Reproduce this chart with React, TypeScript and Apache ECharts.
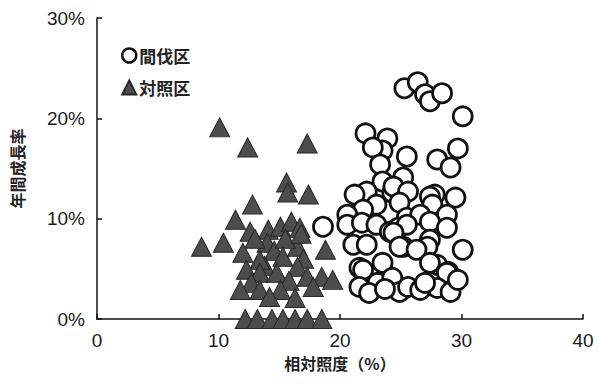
import React, { useEffect, useRef } from "react";
import * as echarts from "echarts";

// 相対照度 (%) と 年間成長率 (%) の組
const thinnedPlot: number[][] = [
  [25.3, 23.0], [26.4, 23.6], [27.0, 22.4], [27.4, 21.7], [28.4, 22.5], [30.1, 20.2],
  [22.1, 18.5], [23.9, 18.0], [23.5, 16.8], [22.7, 17.1], [25.5, 16.2], [28.0, 15.9],
  [29.7, 17.0], [29.1, 15.1], [23.3, 15.4],
  [23.5, 13.7], [25.2, 14.1], [22.2, 12.7], [21.2, 12.4], [24.3, 12.6], [24.4, 13.2],
  [25.6, 12.7], [27.8, 12.4], [27.4, 12.2], [29.5, 12.1], [24.9, 11.6], [23.0, 11.4],
  [27.6, 11.4], [21.9, 10.9], [20.6, 10.4], [25.5, 10.1], [26.6, 10.4], [28.8, 10.4],
  [18.6, 9.2], [20.6, 9.4], [21.8, 9.6], [23.0, 9.4], [24.1, 8.7], [24.8, 9.1],
  [25.5, 9.4], [27.4, 9.7], [28.8, 9.1], [24.4, 8.6], [27.4, 7.9],
  [21.1, 7.4], [22.2, 7.4], [25.2, 7.2], [24.9, 7.2], [27.2, 7.2], [26.3, 6.9], [30.1, 6.9],
  [23.5, 5.6], [21.6, 5.1], [21.9, 4.9], [28.0, 5.4], [27.4, 5.6], [28.9, 4.7], [28.8, 4.6],
  [21.6, 3.2], [23.1, 3.6], [24.3, 4.1], [24.9, 2.7], [25.6, 3.2], [28.0, 3.1],
  [29.1, 2.7], [29.7, 3.9], [22.4, 2.6], [26.6, 2.9], [27.0, 3.6], [23.7, 3.0],
];

const controlPlot: number[][] = [
  [10.1, 19.1], [12.4, 17.1], [17.3, 17.5],
  [15.6, 13.6], [15.7, 12.6], [17.4, 12.4], [12.8, 11.4], [11.4, 9.9],
  [12.6, 8.7], [14.1, 8.9], [15.1, 9.2], [16.0, 9.7], [16.7, 9.1],
  [8.6, 7.2], [10.4, 7.6], [12.0, 6.6], [14.0, 7.6], [16.5, 7.2], [18.8, 6.9],
  [13.0, 8.0], [14.6, 6.8], [15.5, 8.0], [16.8, 8.5], [17.0, 6.0], [13.8, 5.3],
  [13.4, 5.9], [15.3, 6.2],
  [12.3, 4.9], [13.4, 4.6], [14.8, 4.6], [16.5, 5.2], [17.3, 4.2], [18.5, 4.2], [19.4, 3.9],
  [12.7, 3.6], [15.8, 3.8],
  [11.8, 2.9], [13.4, 2.9], [15.1, 2.9], [16.3, 2.1], [17.8, 3.2], [14.2, 2.2],
  [12.2, 0], [13.2, 0], [14.4, 0], [15.3, 0], [16.3, 0], [17.3, 0], [18.5, 0],
];

const xTicks = { min: 0, max: 40, interval: 10 };
const yTicks = { min: 0, max: 30, interval: 10 };

const FONT = "'Liberation Sans', Arial, sans-serif";
const CJK = "'Noto Sans CJK JP', sans-serif";

export default function App() {
  const ref = useRef<HTMLDivElement>(null);

  useEffect(() => {
    if (!ref.current) return;
    const chart = echarts.init(ref.current, null, { renderer: "svg" });
    const axisLine = { show: true, lineStyle: { color: "#111", width: 1.5 } };
    chart.setOption({
      animation: false,
      backgroundColor: "#fff",
      grid: { left: 97, right: 15, top: 18, bottom: 66 },
      legend: {
        orient: "vertical",
        left: 116,
        top: 42,
        itemGap: 15,
        itemWidth: 14,
        itemHeight: 14,
        textStyle: { fontFamily: CJK, fontSize: 17, color: "#222", fontWeight: "bold", padding: [0, 0, 0, -2] },
        data: [
          { name: "間伐区", itemStyle: { color: "#fff", borderColor: "#111", borderWidth: 2.5 }, icon: "circle" },
          { name: "対照区", icon: "triangle" },
        ],
      },
      xAxis: {
        type: "value",
        ...xTicks,
        name: "相対照度（%）",
        nameLocation: "middle",
        nameGap: 31,
        nameTextStyle: { fontFamily: CJK, fontSize: 16, color: "#222", fontWeight: "bold" },
        axisLine,
        axisTick: { show: true, inside: true, length: 5, lineStyle: { color: "#111", width: 1.5 } },
        axisLabel: { fontFamily: FONT, fontSize: 19, color: "#1a1a1a", margin: 12 },
        splitLine: { show: false },
      },
      yAxis: {
        type: "value",
        ...yTicks,
        name: "年間成長率",
        nameLocation: "middle",
        nameRotate: 90,
        nameGap: 72,
        nameTextStyle: { fontFamily: CJK, fontSize: 16, color: "#222", fontWeight: "bold" },
        axisLine,
        axisTick: { show: true, inside: true, length: 5, lineStyle: { color: "#111", width: 1.5 } },
        axisLabel: { fontFamily: FONT, fontSize: 19, color: "#1a1a1a", margin: 12, formatter: "{value}%" },
        splitLine: { show: false },
      },
      series: [
        {
          name: "間伐区",
          type: "scatter",
          data: thinnedPlot,
          symbol: "circle",
          symbolSize: 19,
          z: 3,
          itemStyle: { color: "#fff", borderColor: "#111", borderWidth: 2.8, opacity: 1 },
        },
        {
          name: "対照区",
          type: "scatter",
          data: controlPlot,
          symbol: "triangle",
          symbolSize: [20, 19],
          z: 2,
          itemStyle: { color: "#4d4d4d", borderColor: "#262626", borderWidth: 1, opacity: 1 },
        },
      ],
    });
    return () => chart.dispose();
  }, []);

  return <div ref={ref} style={{ width: 598, height: 385, position: "absolute", left: 0, top: 0 }} />;
}
